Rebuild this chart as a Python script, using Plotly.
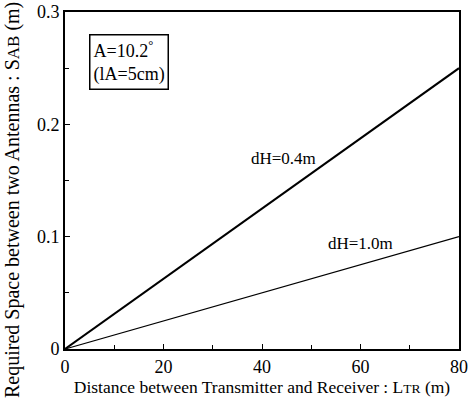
import plotly.graph_objects as go

x_vals = [0, 80]
y_04 = [0, 0.25]
y_10 = [0, 0.10]
x_ticks = [0, 20, 40, 60, 80]
y_ticks = [0, 0.1, 0.2, 0.3]
y_tick_labels = ["0", "0.1", "0.2", "0.3"]

FONT = "Liberation Serif"

fig = go.Figure()
fig.add_trace(go.Scatter(x=x_vals, y=y_04, mode="lines",
                         line=dict(color="black", width=2), showlegend=False))
fig.add_trace(go.Scatter(x=x_vals, y=y_10, mode="lines",
                         line=dict(color="black", width=1.2), showlegend=False))

axis_common = dict(showgrid=False, zeroline=False, showline=True, linecolor="black",
                   linewidth=2, mirror=True, ticks="inside", ticklen=5, tickwidth=1,
                   tickcolor="black", automargin=False,
                   tickfont=dict(family=FONT, size=18, color="black"))

fig.update_xaxes(range=[0, 80], tickvals=x_ticks,
                 minor=dict(ticks="inside", ticklen=4, tickcolor="black", dtick=10, tick0=0),
                 title=dict(text="Distance between Transmitter and Receiver : L<span style='font-size:13.5px'>TR</span> (m)",
                            font=dict(family=FONT, size=17.5, color="black"), standoff=4),
                 **axis_common)
fig.update_yaxes(range=[0, 0.3], tickvals=y_ticks, ticktext=y_tick_labels,
                 minor=dict(ticks="inside", ticklen=4, tickcolor="black", dtick=0.05, tick0=0),
                 **axis_common)

fig.add_annotation(x=-0.1345, y=0.442, xref="paper", yref="paper", xanchor="center", yanchor="middle",
                   textangle=-90, showarrow=False,
                   text="Required Space between two Antennas : S<span style='font-size:17px'>AB</span> (m)",
                   font=dict(family=FONT, size=20, color="black"))

fig.add_annotation(x=0.060, y=0.936, xref="paper", yref="paper", xanchor="left", yanchor="top",
                   text="A=10.2<sup>°</sup><br>(lA=5cm)", showarrow=False, align="left",
                   font=dict(family=FONT, size=18, color="black"),
                   bordercolor="black", borderwidth=1.5, borderpad=3, bgcolor="white")
fig.add_annotation(x=44.3, y=0.170, text="dH=0.4m", showarrow=False,
                   font=dict(family=FONT, size=17, color="black"))
fig.add_annotation(x=60.1, y=0.0935, text="dH=1.0m", showarrow=False,
                   font=dict(family=FONT, size=17, color="black"))

fig.update_layout(width=468, height=407, margin=dict(l=65, r=9, t=12, b=58),
                  plot_bgcolor="white", paper_bgcolor="white",
                  font=dict(family=FONT, color="black"))

fig.write_html("out.html", config={"displayModeBar": False},
               post_script="document.body.style.margin='0';")
